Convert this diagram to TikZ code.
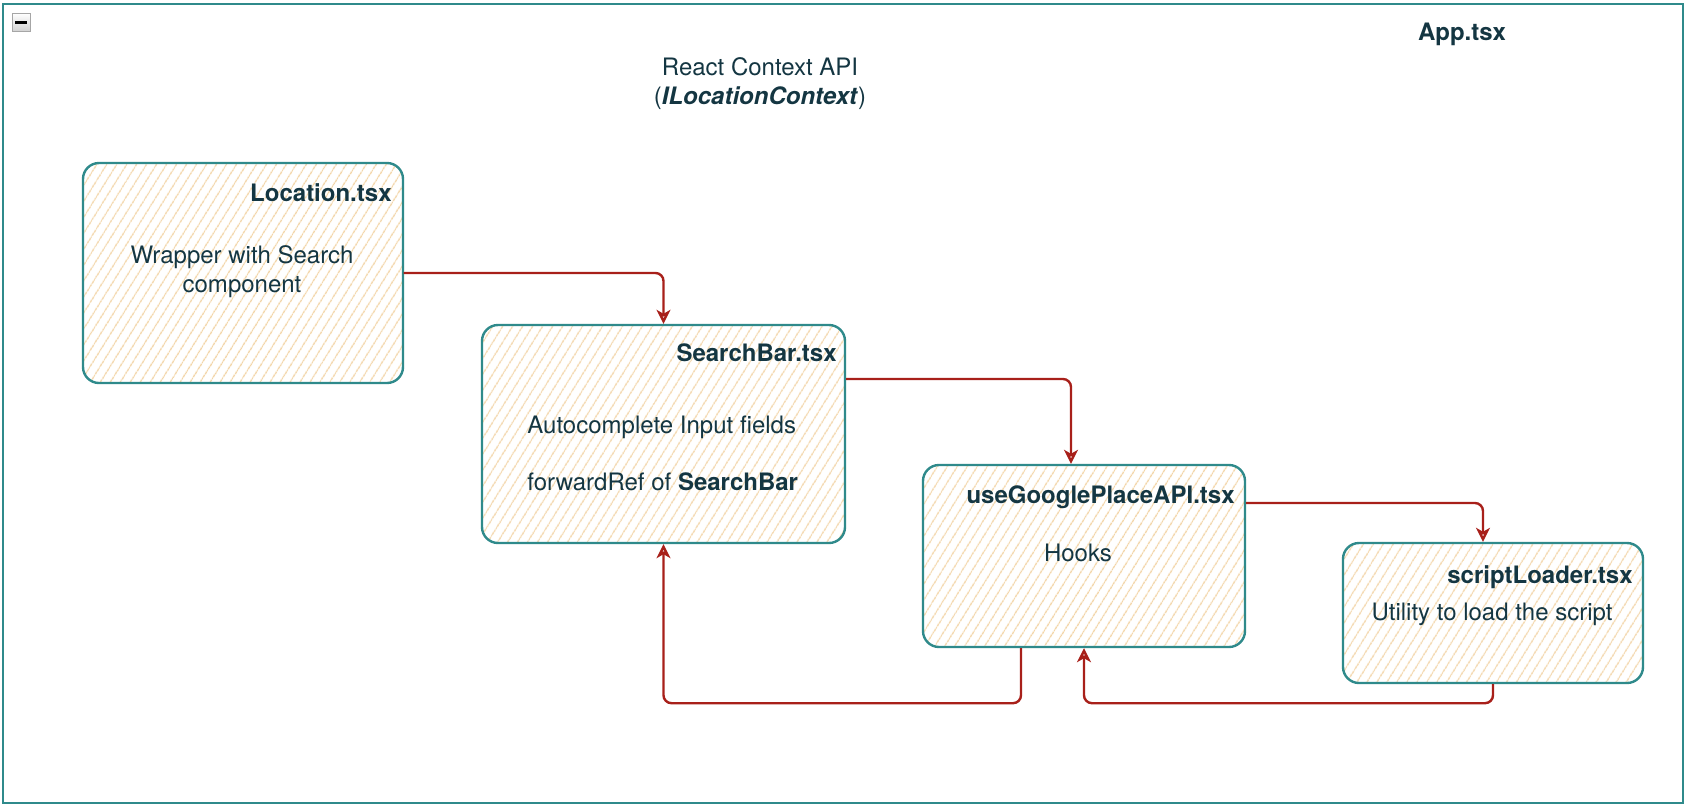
\documentclass[tikz,border=0pt]{standalone}
\usepackage{fontspec}
\setmainfont{TeX Gyre Heros}
\usetikzlibrary{arrows.meta,positioning,patterns.meta}

\definecolor{frameteal}{HTML}{2F8A8B}
\definecolor{hatchsand}{HTML}{F2D4A6}
\definecolor{linkred}{HTML}{A8201A}
\definecolor{inkblue}{HTML}{143642}

\begin{document}
\begin{tikzpicture}[
    x=0.5pt, y=-0.5pt,
    module/.style={draw=frameteal, line width=1.2pt, rounded corners=8pt,
        pattern={Lines[angle=58, distance=4pt, line width=0.6pt]}, pattern color=hatchsand},
    container/.style={draw=frameteal, line width=1.2pt},
    title/.style={font=\fontsize{12}{14.5}\selectfont\bfseries, inner sep=0pt},
    body/.style={inner sep=0pt},
    link/.style={draw=linkred, line width=1.2pt, rounded corners=4pt,
        -{Stealth[open, length=7pt, width=7pt, inset=2pt]}},
    every node/.style={font=\fontsize{12}{14.5}\selectfont, text=inkblue}
]
\useasboundingbox (0,0) rectangle (1688,810);

% outer frame (App.tsx)
\node[container, minimum width=840pt, minimum height=399.5pt] (app) at (843,403.5) {};
\node[draw=gray!70, top color=white, bottom color=gray!35, minimum size=9pt, inner sep=0pt] (collapse) at (21,22) {};
\draw[line width=1.5pt] ([xshift=-3pt]collapse.center) -- ([xshift=3pt]collapse.center);
\node[title] (appname) at (1462,34) {App.tsx};
\node[body, align=center] (context) at (760,84) {React Context API\\(\textbf{\textit{ILocationContext}})};

% modules
\node[module, minimum width=160pt, minimum height=110pt] (location) at (243,273) {};
\node[module, minimum width=181.5pt, minimum height=109pt] (search) at (663.5,434) {};
\node[module, minimum width=161pt, minimum height=91pt] (hook) at (1084,556) {};
\node[module, minimum width=150pt, minimum height=70pt] (loader) at (1493,613) {};

% texts
\node[title, anchor=east] (locationname) at (392,193) {Location.tsx};
\node[body, align=center] (locationtext) at (242,272) {Wrapper with Search\\component};
\node[title, anchor=east] (searchname) at (837,353) {SearchBar.tsx};
\node[body, align=left, anchor=west] (searchtext) at (527,453) {Autocomplete Input fields\\[14pt]forwardRef of \textbf{SearchBar}};
\node[title, anchor=east] (hookname) at (1235,497) {useGooglePlaceAPI.tsx};
\node[body] (hooktext) at (1078,553) {Hooks};
\node[title, anchor=east] (loadername) at (1633,577) {scriptLoader.tsx};
\node[body] (loadertext) at (1492,614) {Utility to load the script};

% connectors
\draw[link] (location.east) -| (search.north);
\draw[link] ([yshift=27.5pt]search.east) -| ([xshift=-6.5pt]hook.north);
\draw[link] ([yshift=26.5pt]hook.east) -| ([xshift=-5pt]loader.north);
\draw[link] ([xshift=-31.5pt]hook.south) -- ++(0,-27.5pt) -| (search.south);
\draw[link] (loader.south) -- ++(0,-9.5pt) -| (hook.south);
\end{tikzpicture}
\end{document}
